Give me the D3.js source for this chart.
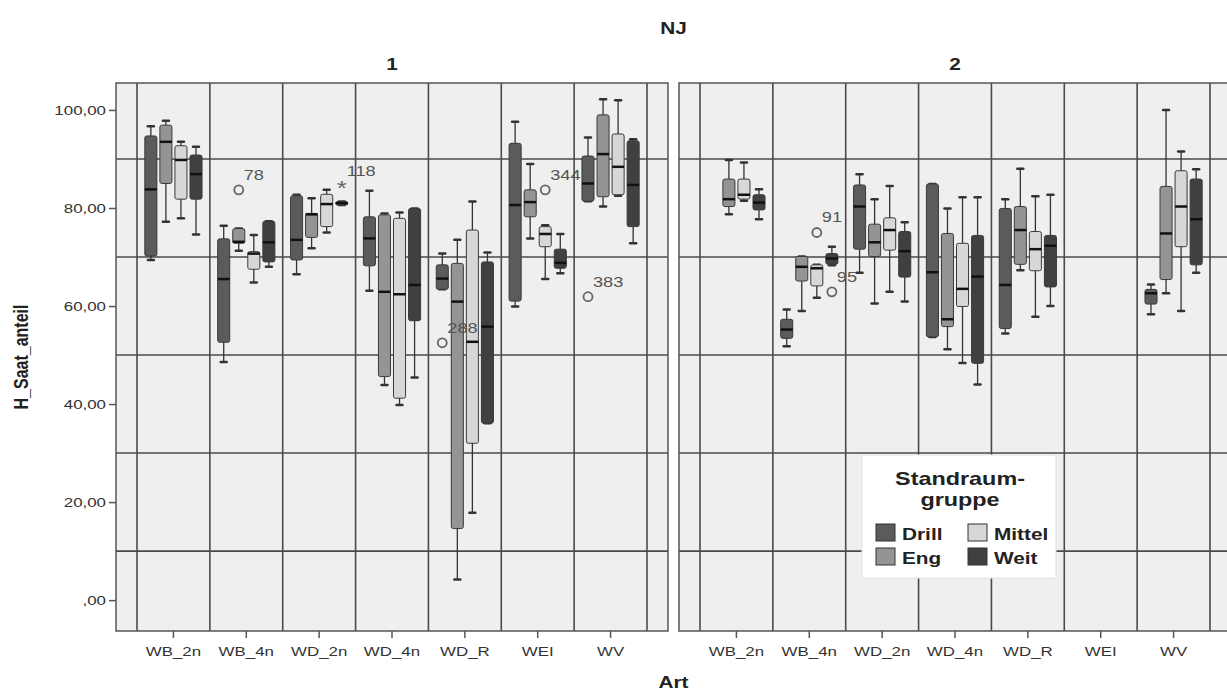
<!DOCTYPE html>
<html>
<head>
<meta charset="utf-8">
<script src="https://cdn.jsdelivr.net/npm/d3@7"></script>
<style>
	body { margin: 0; background: #fff; }
	svg text { font-family: "Liberation Sans", Arial, sans-serif; }
</style>
</head>
<body>
<div id="js_chart"></div>
<script>
	'use strict';
	// Kategorien und Gruppen
	const arten = ['WB_2n', 'WB_4n', 'WD_2n', 'WD_4n', 'WD_R', 'WEI', 'WV'];
	const gruppen = ['Drill', 'Eng', 'Mittel', 'Weit'];
	const panels = ['1', '2'];
	const yTicks = [0, 20, 40, 60, 80, 100];
	const yGrid = [10, 30, 50, 70, 90];

	// je Art: [unterer Whisker, Q1, Median, Q3, oberer Whisker]
	const drill1 = [[69.4, 70.2, 83.8, 94.7, 96.7], [48.6, 52.6, 65.5, 73.7, 76.4], [66.5, 69.4, 73.5, 82.5, 82.7],
		[63.1, 68.2, 73.8, 78.2, 83.5], [63.4, 63.4, 65.6, 68.4, 70.7], [59.9, 61.0, 80.6, 93.2, 97.6], [81.4, 81.4, 85.0, 90.6, 94.4]];
	const eng1 = [[77.2, 85.0, 93.5, 96.9, 97.8], [71.3, 72.8, 73.1, 75.8, 75.8], [71.8, 74.0, 78.7, 78.9, 82.0],
		[43.9, 45.6, 62.9, 78.6, 78.9], [4.2, 14.6, 60.9, 68.7, 73.5], [73.8, 78.2, 81.2, 83.7, 89.0], [80.3, 82.3, 91.0, 99.0, 102.2]];
	const mittel1 = [[77.9, 81.8, 89.8, 92.7, 93.5], [64.8, 67.5, 70.7, 71.1, 74.5], [75.0, 76.2, 80.8, 82.8, 83.7],
		[39.8, 41.2, 62.4, 77.9, 79.1], [17.8, 32.0, 52.7, 75.5, 81.3], [65.5, 72.1, 74.7, 76.2, 76.5], [82.5, 82.7, 88.4, 95.1, 102.0]];
	const weit1 = [[74.6, 81.8, 86.9, 90.8, 92.5], [68.0, 69.0, 73.0, 77.3, 77.3], [80.6, 80.6, 81.0, 81.3, 81.3],
		[45.4, 57.0, 64.3, 79.9, 79.9], [36.1, 36.1, 55.8, 69.0, 70.9], [66.7, 67.7, 68.8, 71.6, 74.7], [72.8, 76.2, 84.7, 93.7, 94.0]];

	const drill2 = [null, [51.8, 53.4, 55.2, 57.3, 59.3], [66.8, 71.6, 80.3, 84.7, 86.9],
		[53.7, 53.7, 66.9, 84.9, 84.9], [54.4, 55.4, 64.3, 79.9, 81.8], null, [58.3, 60.4, 62.6, 63.4, 64.4]];
	const eng2 = [[78.7, 80.3, 81.8, 85.9, 89.8], [59.0, 65.1, 68.0, 70.1, 70.1], [60.5, 70.1, 73.0, 76.7, 81.8],
		[51.2, 55.8, 57.3, 74.8, 79.9], [67.3, 68.5, 75.5, 80.3, 88.0], null, [62.6, 65.4, 74.8, 84.4, 100.0]];
	const mittel2 = [[81.5, 81.8, 82.7, 85.9, 89.3], [61.7, 64.1, 67.7, 68.4, 68.4], [62.9, 71.4, 75.5, 78.0, 84.5],
		[48.4, 59.9, 63.5, 72.8, 82.2], [57.8, 67.2, 71.6, 75.2, 82.4], null, [59.0, 72.1, 80.3, 87.6, 91.5]];
	const weit2 = [[77.7, 79.6, 81.1, 82.7, 83.8], [68.3, 68.5, 69.7, 70.7, 72.1], [60.9, 65.9, 71.2, 75.2, 77.1],
		[44.0, 48.3, 66.0, 74.4, 82.2], [60.0, 63.9, 72.3, 74.4, 82.7], null, [66.8, 68.4, 77.7, 85.9, 87.9]];

	// Ausreisser (o) und Extremwerte (*)
	const ausreisser = [
		{ panel: '1', art: 'WB_4n', gruppe: 'Eng', wert: 83.7, nr: '78', sym: 'o' },
		{ panel: '1', art: 'WD_2n', gruppe: 'Weit', wert: 84.4, nr: '118', sym: '*' },
		{ panel: '1', art: 'WD_R', gruppe: 'Drill', wert: 52.5, nr: '288', sym: 'o' },
		{ panel: '1', art: 'WEI', gruppe: 'Mittel', wert: 83.7, nr: '344', sym: 'o' },
		{ panel: '1', art: 'WV', gruppe: 'Drill', wert: 61.9, nr: '383', sym: 'o' },
		{ panel: '2', art: 'WB_4n', gruppe: 'Mittel', wert: 75.0, nr: '91', sym: 'o' },
		{ panel: '2', art: 'WB_4n', gruppe: 'Weit', wert: 62.9, nr: '95', sym: 'o' }
	];

	const boxData = {
		'1': [drill1, eng1, mittel1, weit1],
		'2': [drill2, eng2, mittel2, weit2]
	};
	const farben = ['#5b5b5b', '#949494', '#d7d7d7', '#404040'];

	const width = 1227, height = 692;
	const plotTop = 83, plotBottom = 631;
	const panelX = [116, 679];
	const panelW = 552;
	const innerPad = 21;
	const sx = 1.3; // Schrift ist im Original breit gezogen
	const gridColor = '#4a4a4a';

	const svg = d3.select('#js_chart').append('svg')
		.attr('width', width)
		.attr('height', height);

	function stretchText(parent, x, y, str, size, weight, anchor) {
		return parent.append('text')
			.attr('transform', 'translate(' + x + ',' + y + ') scale(' + sx + ',1)')
			.attr('text-anchor', anchor || 'middle')
			.style('font-size', size + 'px')
			.style('font-weight', weight || 'normal')
			.style('fill', '#222')
			.text(str);
	}

	const y = d3.scaleLinear().domain([-6.3, 105.5]).range([plotBottom, plotTop]);
	const x = d3.scaleBand().domain(arten).range([innerPad, panelW - innerPad]);
	const xg = d3.scaleBand().domain(gruppen).range([0, x.bandwidth()])
		.paddingInner(0.2).paddingOuter(0.52);

	function fmt(v) {
		let s = d3.format('.2f')(v).replace('.', ',');
		return s.indexOf('0,') === 0 ? s.slice(1) : s;
	}

	panels.forEach(function (p, pi) {
		const g = svg.append('g').attr('transform', 'translate(' + panelX[pi] + ',0)');

		// Hintergrund
		g.append('rect')
			.attr('x', 0).attr('y', plotTop)
			.attr('width', panelW).attr('height', plotBottom - plotTop)
			.style('fill', '#efefef');

		// Gitter
		g.selectAll('.hgrid').data(yGrid).enter().append('line')
			.attr('x1', 0).attr('x2', panelW)
			.attr('y1', d => y(d)).attr('y2', d => y(d))
			.style('stroke', gridColor).style('stroke-width', 1.6);
		const bounds = arten.map(a => x(a)).concat([x(arten[arten.length - 1]) + x.bandwidth()]);
		g.selectAll('.vgrid').data(bounds).enter().append('line')
			.attr('x1', d => d).attr('x2', d => d)
			.attr('y1', plotTop).attr('y2', plotBottom)
			.style('stroke', gridColor).style('stroke-width', 1.6);

		// Rahmen
		g.append('rect')
			.attr('x', 0).attr('y', plotTop)
			.attr('width', panelW).attr('height', plotBottom - plotTop)
			.style('fill', 'none').style('stroke', '#555').style('stroke-width', 1.5);

		// Boxplots
		gruppen.forEach(function (grp, gi) {
			boxData[p][gi].forEach(function (s, ai) {
				if (!s) { return; }
				const a = arten[ai];
				const x0 = x(a) + xg(grp);
				const cx = x0 + xg.bandwidth() / 2;
				const b = g.append('g');
				b.append('line')
					.attr('x1', cx).attr('x2', cx)
					.attr('y1', y(s[0])).attr('y2', y(s[4]))
					.style('stroke', '#333').style('stroke-width', 1.3);
				[s[0], s[4]].forEach(function (v) {
					b.append('line')
						.attr('x1', cx - 3).attr('x2', cx + 3)
						.attr('y1', y(v)).attr('y2', y(v))
						.style('stroke', '#333').style('stroke-width', 2.5)
						.style('stroke-linecap', 'round');
				});
				b.append('rect')
					.attr('x', x0).attr('width', xg.bandwidth())
					.attr('y', y(s[3])).attr('height', Math.max(2, y(s[1]) - y(s[3])))
					.attr('rx', 2)
					.style('fill', farben[gi])
					.style('stroke', '#3a3a3a').style('stroke-width', 1);
				b.append('line')
					.attr('x1', x0).attr('x2', x0 + xg.bandwidth())
					.attr('y1', y(s[2])).attr('y2', y(s[2]))
					.style('stroke', '#111').style('stroke-width', 2.5);
			});
		});

		// Ausreisser
		ausreisser.filter(d => d.panel === p).forEach(function (d) {
			const cx = x(d.art) + xg(d.gruppe) + xg.bandwidth() / 2;
			const cy = y(d.wert);
			if (d.sym === 'o') {
				g.append('circle')
					.attr('cx', cx).attr('cy', cy).attr('r', 4.5)
					.style('fill', 'none').style('stroke', '#666').style('stroke-width', 1.8);
			} else {
				stretchText(g, cx, cy + 9, '*', 20, 'normal').style('fill', '#666');
			}
			stretchText(g, cx + 5, cy - 10, d.nr, 14, 'normal', 'start').style('fill', '#555');
		});

		// x-Achse
		const xAxis = g.append('g')
			.attr('transform', 'translate(0,' + plotBottom + ')')
			.call(d3.axisBottom(x).tickSize(7).tickSizeOuter(0));
		xAxis.select('.domain').remove();
		xAxis.selectAll('line').style('stroke', '#555').style('stroke-width', 1.5);
		xAxis.selectAll('text')
			.attr('y', 25).attr('dy', null)
			.attr('transform', 'scale(' + sx + ',1)')
			.attr('x', 0)
			.style('font-size', '13px')
			.style('fill', '#333');

		// y-Achse nur links
		if (pi === 0) {
			const yAxis = g.append('g')
				.call(d3.axisLeft(y).tickValues(yTicks).tickSize(7).tickFormat(fmt));
			yAxis.select('.domain').remove();
			yAxis.selectAll('line').style('stroke', '#555').style('stroke-width', 1.5);
			yAxis.selectAll('text')
				.attr('x', -10 / sx)
				.attr('transform', 'scale(' + sx + ',1)')
				.style('font-size', '13px')
				.style('fill', '#333');
		}

		// Panel-Titel
		stretchText(g, panelW / 2, 70, p, 16, 'bold');
	});

	// Titel und Achsentitel
	const midX = (panelX[0] + panelX[1] + panelW) / 2;
	stretchText(svg, midX, 34, 'NJ', 16, 'bold');
	stretchText(svg, midX, 688, 'Art', 16, 'bold');
	svg.append('text')
		.attr('transform', 'translate(28,' + ((plotTop + plotBottom) / 2) + ') scale(' + sx + ',1) rotate(-90)')
		.attr('text-anchor', 'middle')
		.style('font-size', '16px')
		.style('font-weight', 'bold')
		.style('fill', '#222')
		.text('H_Saat_anteil');

	// Legende
	const leg = svg.append('g').attr('transform', 'translate(862,455)');
	leg.append('rect')
		.attr('width', 194).attr('height', 123)
		.style('fill', '#fff').style('stroke', '#e4e4e4');
	stretchText(leg, 98, 30, 'Standraum-', 18, 'bold');
	stretchText(leg, 98, 51, 'gruppe', 18, 'bold');
	gruppen.forEach(function (grp, i) {
		const lx = 14 + Math.floor(i / 2) * 92;
		const ly = 69 + (i % 2) * 24;
		leg.append('rect')
			.attr('x', lx).attr('y', ly)
			.attr('width', 19).attr('height', 17)
			.style('fill', farben[i])
			.style('stroke', '#333').style('stroke-width', 1);
		stretchText(leg, lx + 26, ly + 16, grp, 16, 'bold', 'start');
	});
</script>
</body>
</html>
